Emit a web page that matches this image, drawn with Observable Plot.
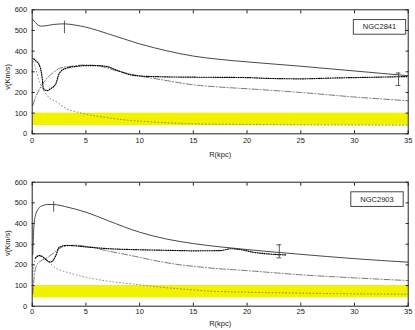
<!DOCTYPE html>
<html>
<head>
<meta charset="utf-8">
<script src="https://cdn.jsdelivr.net/npm/d3@7"></script>
<script src="https://cdn.jsdelivr.net/npm/@observablehq/plot@0.6"></script>
<style>
  html, body { margin: 0; padding: 0; background: #fff; }
  #chart svg { display: block; }
</style>
</head>
<body>
<div id="chart"></div>
<script>
// ---------- shared ----------
const xTicks = [0, 5, 10, 15, 20, 25, 30, 35];
const yTicks = [0, 100, 200, 300, 400, 500, 600];
const xLabel = "R(kpc)";
const yLabel = "v(Km/s)";
const bandR = [0, 35];
const bandV = [40, 100];

// ---------- NGC2841 ----------
const g1Name = "NGC2841";
const g1TotalR = [0.05, 0.3, 0.6, 0.9, 1.5, 2, 3, 4, 5, 7, 10, 12.5, 15, 17.5, 20, 25, 30, 35];
const g1TotalV = [552, 540, 524, 521, 525, 529, 532, 526, 516, 485, 435, 402, 376, 360, 348, 327, 304, 281];
const g1ObsR = [0.15, 0.4, 0.6, 0.9, 1.05, 1.4, 1.7, 2.2, 2.5, 3, 4.2, 5, 6, 7, 8, 9.3, 10, 12, 15, 18, 20, 22, 25, 28, 30, 33, 35];
const g1ObsV = [363, 350, 339, 282, 218, 209, 218, 242, 290, 314, 327, 330, 330, 325, 305, 284, 280, 276, 274, 273, 272, 268, 266, 270, 272, 275, 277];
const g1DiskR = [0.05, 0.3, 0.7, 1.2, 2, 2.6, 3.5, 5, 6, 8, 10, 12, 15, 17.5, 20, 25, 30, 35];
const g1DiskV = [137, 175, 218, 258, 298, 318, 326, 333, 330, 303, 280, 262, 237, 226, 218, 200, 178, 160];
const g1BulgeR = [0.05, 0.3, 0.7, 1.4, 2.3, 3.2, 4.2, 5.6, 7, 9.3, 12, 15, 20, 25, 30, 35];
const g1BulgeV = [365, 320, 250, 185, 153, 121, 105, 89, 78, 64, 55, 48, 45, 43, 42, 41];
const g1ErrR = [3, 34.1];
const g1ErrLo = [485, 234];
const g1ErrHi = [545, 294];
const g1ErrCap = [false, true];

// ---------- NGC2903 ----------
const g2Name = "NGC2903";
const g2TotalR = [0.05, 0.15, 0.3, 0.5, 0.7, 1, 1.35, 2, 2.5, 3, 4, 5, 7, 10, 12.5, 15, 17.5, 20, 22.5, 25, 30, 35];
const g2TotalV = [250, 380, 439, 465, 479, 487, 492, 492, 489, 483, 470, 455, 415, 358, 325, 303, 287, 274, 262, 251, 230, 213];
const g2ObsR = [0.3, 0.5, 0.7, 1.0, 1.3, 1.7, 2.2, 2.5, 3.2, 4, 5, 7.2, 9.3, 12, 13.8, 15, 17.5, 18.5, 19.4, 20.6, 22.2, 23.7];
const g2ObsV = [232, 242, 245, 238, 225, 213, 245, 285, 294, 292, 287, 278, 274, 271, 269, 268, 269, 278, 274, 261, 252, 248];
const g2DiskR = [0.05, 0.2, 0.4, 0.7, 1, 1.5, 2, 2.5, 3, 4, 5, 7, 9.3, 12, 13.8, 15, 16.5, 20, 25, 30, 35];
const g2DiskV = [60, 150, 197, 215, 225, 238, 258, 278, 290, 295, 290, 268, 244, 215, 200, 193, 185, 172, 152, 137, 124];
const g2BulgeR = [0.05, 0.2, 0.5, 0.9, 1.35, 2.3, 3.2, 5, 7.2, 9.3, 12, 15, 16.5, 20, 25, 30, 35];
const g2BulgeV = [150, 215, 245, 238, 221, 181, 165, 140, 120, 108, 92, 79, 73, 68, 63, 60, 58];
const g2ErrR = [2, 23];
const g2ErrLo = [455, 234];
const g2ErrHi = [505, 297];
const g2ErrCap = [false, true];

const rows = (R, V) => R.map((r, i) => ({r, v: V[i]}));
const errRows = (R, lo, hi, cap) => R.map((r, i) => ({r, lo: lo[i], hi: hi[i], cap: cap[i]}));

const FONT = "'Liberation Sans', Arial, Helvetica, sans-serif";

function panel(cfg) {
  const band = [{x1: bandR[0], x2: bandR[1], y1: bandV[0], y2: bandV[1]}];
  const errs = errRows(cfg.errR, cfg.errLo, cfg.errHi, cfg.errCap);
  const caps = errs.filter(d => d.cap).flatMap(d => [{r: d.r, v: d.lo}, {r: d.r, v: d.hi}]);
  return Plot.plot({
    width: 415,
    height: 165,
    marginTop: cfg.mt,
    marginBottom: cfg.mb,
    marginLeft: 31.7,
    marginRight: 7.3,
    style: {fontFamily: FONT, fontSize: "7.5px", background: "#fff", color: "#222"},
    x: {domain: [0, 35]},
    y: {domain: [0, 600]},
    marks: [
      Plot.rect(band, {x1: "x1", x2: "x2", y1: "y1", y2: "y2", fill: "#f2f200", insetLeft: 1}),
      Plot.line(rows(cfg.bulgeR, cfg.bulgeV), {x: "r", y: "v", stroke: "#666", strokeWidth: 0.8, strokeDasharray: "0.8,2.6", curve: "monotone-x"}),
      Plot.line(rows(cfg.diskR, cfg.diskV), {x: "r", y: "v", stroke: "#555", strokeWidth: 0.8, strokeDasharray: "6,2,1,2", curve: "monotone-x"}),
      Plot.line(rows(cfg.obsR, cfg.obsV), {x: "r", y: "v", stroke: "#000", strokeWidth: 1.15, strokeDasharray: "1,1.3", curve: "monotone-x"}),
      Plot.line(rows(cfg.totalR, cfg.totalV), {x: "r", y: "v", stroke: "#333", strokeWidth: 0.9, curve: "monotone-x"}),
      Plot.ruleX(errs, {x: "r", y1: "lo", y2: "hi", stroke: "#444", strokeWidth: 0.9}),
      Plot.ruleY(caps, {y: "v", x1: d => d.r - 0.22, x2: d => d.r + 0.22, stroke: "#444", strokeWidth: 0.9}),
      Plot.frame({stroke: "#222", strokeWidth: 1}),
      // inward ticks
      Plot.axisX(xTicks, {anchor: "bottom", tickSize: -3, text: null, label: null, stroke: "#222"}),
      Plot.axisX(xTicks, {anchor: "top", tickSize: -3, text: null, label: null, stroke: "#222"}),
      Plot.axisY(yTicks, {anchor: "left", tickSize: -3, text: null, label: null, stroke: "#222"}),
      Plot.axisY(yTicks, {anchor: "right", tickSize: -3, text: null, label: null, stroke: "#222"}),
      // tick labels
      Plot.axisX(xTicks, {anchor: "bottom", tickSize: 0, tickPadding: cfg.xPad, label: null, fill: "#222"}),
      Plot.axisY(yTicks, {anchor: "left", tickSize: 0, tickPadding: 5, label: null, fill: "#222"}),
      // axis titles
      Plot.text([xLabel], {frameAnchor: "bottom", dy: cfg.xLabelDy, lineAnchor: "middle", text: d => d, fill: "#222"}),
      Plot.text([yLabel], {frameAnchor: "left", dx: -25, dy: cfg.yLabelDy, rotate: -90, textAnchor: "middle", lineAnchor: "middle", text: d => d, fill: "#222"}),
      // legend label
      Plot.text([cfg.name], {frameAnchor: "top-right", dx: cfg.legDx, dy: cfg.legDy, textAnchor: "middle", lineAnchor: "middle", text: d => d, fill: "#222"})
    ]
  });
}

const chart = document.getElementById("chart");
const p1 = panel({
  name: g1Name, totalR: g1TotalR, totalV: g1TotalV, obsR: g1ObsR, obsV: g1ObsV,
  diskR: g1DiskR, diskV: g1DiskV, bulgeR: g1BulgeR, bulgeV: g1BulgeV,
  errR: g1ErrR, errLo: g1ErrLo, errHi: g1ErrHi, errCap: g1ErrCap,
  mt: 9.3, mb: 31.7, xPad: 3.5, xLabelDy: 20.5, yLabelDy: 5, legDx: -28.7, legDy: 17.2
});
const p2 = panel({
  name: g2Name, totalR: g2TotalR, totalV: g2TotalV, obsR: g2ObsR, obsV: g2ObsV,
  diskR: g2DiskR, diskV: g2DiskV, bulgeR: g2BulgeR, bulgeV: g2BulgeV,
  errR: g2ErrR, errLo: g2ErrLo, errHi: g2ErrHi, errCap: g2ErrCap,
  mt: 16.7, mb: 24.3, xPad: 2.5, xLabelDy: 17.5, yLabelDy: -1, legDx: -31.2, legDy: 17
});
chart.appendChild(p1);
chart.appendChild(p2);

// boxes around legend labels
[[p1, g1Name], [p2, g2Name]].forEach(([svg, name]) => {
  const texts = Array.from(svg.querySelectorAll("text")).filter(t => t.textContent === name);
  if (!texts.length) return;
  const t = texts[0];
  const bb = t.getBBox();
  const ctm = t.getCTM();
  const svgCtm = svg.getCTM ? svg.getCTM() : null;
  const m = svgCtm ? svgCtm.inverse().multiply(ctm) : ctm;
  const pt = (x, y) => ({x: m.a * x + m.c * y + m.e, y: m.b * x + m.d * y + m.f});
  const p0 = pt(bb.x, bb.y), p1c = pt(bb.x + bb.width, bb.y + bb.height);
  const padX = 9.5, padY = 2.8;
  const x0 = Math.min(p0.x, p1c.x) - padX, y0 = Math.min(p0.y, p1c.y) - padY;
  const w = Math.abs(p1c.x - p0.x) + 2 * padX, h = Math.abs(p1c.y - p0.y) + 2 * padY;
  d3.select(svg).append("rect")
    .attr("x", x0).attr("y", y0).attr("width", w).attr("height", h)
    .attr("fill", "none").attr("stroke", "#333").attr("stroke-width", 0.9);
});
</script>
</body>
</html>
